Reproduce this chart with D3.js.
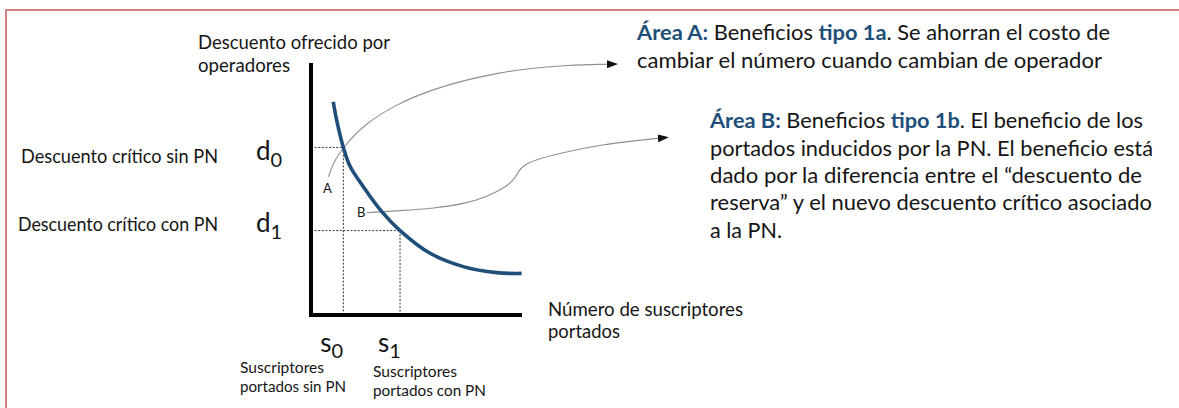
<!DOCTYPE html>
<html><head><meta charset="utf-8">
<script src="https://cdn.jsdelivr.net/npm/d3@7"></script>
<style>
html,body{margin:0;padding:0;background:#fff;overflow:hidden}
svg{display:block}
text{font-family:Lato,"Open Sans",sans-serif;fill:#151515}
</style>
</head><body>
<script>
// ---- data (chart units: s = suscriptores portados, d = descuento) ----
const curveS = [10.6, 12.2, 15.4, 18.6, 24.9, 33.7, 42.4, 56.7, 72.5, 88.4, 100.3];
const curveD = [84.6, 77.4, 66.5, 59.0, 50.9, 41.0, 33.5, 24.5, 19.2, 16.8, 16.5];
const critS = [15.4, 42.4];
const critD = [66.5, 33.5];
const dTickLabels = ["d", "d"];
const dTickSubs = ["0", "1"];
const sTickLabels = ["s", "s"];
const sTickSubs = ["0", "1"];
const dCritLabels = ["Descuento crítico sin PN", "Descuento crítico con PN"];
const sCritLabels = [["Suscriptores", "portados sin PN"], ["Suscriptores", "portados con PN"]];
const yTitle = ["Descuento ofrecido por", "operadores"];
const xTitle = ["Número de suscriptores", "portados"];
const areaLabels = ["A", "B"];
const annotA_S = [8.33, 10.48, 15.38, 25.0, 40.95, 58.10, 73.33, 90.0, 104.29, 121.9, 140.95];
const annotA_D = [54.8, 60.3, 66.5, 75.5, 83.8, 89.6, 93.2, 96.2, 97.9, 99.2, 99.5];
const annotB_S = [26.5, 42.4, 58.2, 74.1, 83.7, 93.2, 97.1, 98.7, 101.1, 109.0, 121.8, 137.6, 156.7, 165.2];
const annotB_D = [40.6, 41.4, 42.3, 44.3, 46.9, 50.9, 54.2, 56.9, 59.5, 62.2, 64.8, 67.5, 69.4, 70.1];
const noteA = [
  [["Área A:", true], [" Beneficios ", false], ["tipo 1a", true], [". Se ahorran el costo de", false]],
  [["cambiar el número cuando cambian de operador", false]]
];
const noteB = [
  [["Área B:", true], [" Beneficios ", false], ["tipo 1b", true], [". El beneficio de los", false]],
  [["portados inducidos por la PN. El beneficio está", false]],
  [["dado por la diferencia entre el “descuento de", false]],
  [["reserva” y el nuevo descuento crítico asociado", false]],
  [["a la PN.", false]]
];

// ---- layout ----
const W = 1179, H = 408;
const BLUE = "#1f4e79";
const svg = d3.select("body").append("svg").attr("width", W).attr("height", H);

const x = d3.scaleLinear().domain([0, 100]).range([311, 521]);
const y = d3.scaleLinear().domain([0, 100]).range([315, 63]);

// frame
svg.append("path").attr("d", `M6,${H}V10H${W}`).attr("fill", "none")
  .attr("stroke", "#d77f7f").attr("stroke-width", 2);

// arrow marker
svg.append("defs").append("marker").attr("id", "arr")
  .attr("viewBox", "0 0 11 8").attr("refX", 0).attr("refY", 4)
  .attr("markerUnits", "userSpaceOnUse").attr("markerWidth", 11).attr("markerHeight", 8)
  .attr("orient", "auto")
  .append("path").attr("d", "M0,0L11,4L0,8Z").attr("fill", "#111");

// dashed guides
const guides = svg.append("g").attr("stroke", "#333").attr("stroke-width", 1)
  .attr("stroke-dasharray", "2,1.6").attr("fill", "none");
critS.forEach((s, i) => {
  guides.append("line").attr("x1", x(0)).attr("x2", x(s)).attr("y1", y(critD[i])).attr("y2", y(critD[i]));
  guides.append("line").attr("x1", x(s)).attr("x2", x(s)).attr("y1", y(critD[i])).attr("y2", y(0));
});

// annotation curves
const lineGen = d3.line().x(d => x(d[0])).y(d => y(d[1])).curve(d3.curveBasis);
[[annotA_S, annotA_D], [annotB_S, annotB_D]].forEach(([S, D]) => {
  svg.append("path").datum(S.map((s, i) => [s, D[i]])).attr("d", lineGen)
    .attr("fill", "none").attr("stroke", "#8f8f8f").attr("stroke-width", 1.1)
    .attr("marker-end", "url(#arr)");
});

// demand curve
svg.append("path").datum(curveS.map((s, i) => [s, curveD[i]]))
  .attr("d", d3.line().x(d => x(d[0])).y(d => y(d[1])).curve(d3.curveCatmullRom.alpha(0.5)))
  .attr("fill", "none").attr("stroke", BLUE).attr("stroke-width", 3.6);

// axes (thick domain lines, no ticks)
const yAxis = svg.append("g").attr("transform", `translate(${x(0)},0)`)
  .call(d3.axisLeft(y).tickValues([]).tickSizeOuter(0));
const xAxis = svg.append("g").attr("transform", `translate(0,${y(0)})`)
  .call(d3.axisBottom(x).tickValues([]).tickSizeOuter(0));
yAxis.select(".domain").attr("stroke", "#000").attr("stroke-width", 4)
  .attr("d", `M0,${y(0) + 2}V${y(100)}`);
xAxis.select(".domain").attr("stroke", "#000").attr("stroke-width", 4)
  .attr("d", `M${x(0) - 2},0H${x(100) + 1}`);

// helper for text with fitted length
function label(str, tx, ty, size, len) {
  const t = svg.append("text").attr("x", tx).attr("y", ty).attr("font-size", size).text(str);
  if (len) t.attr("textLength", len).attr("lengthAdjust", "spacingAndGlyphs");
  return t;
}

// d tick labels
const dTickOffsets = [13, 1];
const dLabelOffsets = [16, 0.5];
critD.forEach((d, i) => {
  const t = svg.append("text").attr("x", 256).attr("y", y(d) + dTickOffsets[i]).attr("font-size", 26);
  t.append("tspan").text(dTickLabels[i]);
  t.append("tspan").attr("dy", 7).attr("font-size", 20).text(dTickSubs[i]);
  label(dCritLabels[i], i === 0 ? 21 : 18, y(d) + dLabelOffsets[i], 19.5, i === 0 ? 197 : 200);
});

// s tick labels
const sTickDx = [-23, -22];
const sLabelX = [240, 373];
const sLabelY = [[373, 392], [377, 396]];
const sLabelLen = [[84, 106], [84, 113]];
critS.forEach((s, i) => {
  const t = svg.append("text").attr("x", x(s) + sTickDx[i]).attr("y", 352).attr("font-size", 26);
  t.append("tspan").text(sTickLabels[i]);
  t.append("tspan").attr("dy", 6).attr("font-size", 20).text(sTickSubs[i]);
  sCritLabels[i].forEach((ln, j) => label(ln, sLabelX[i], sLabelY[i][j], 15.5, sLabelLen[i][j]));
});

// axis titles
label(yTitle[0], 198, 49, 19, 192);
label(yTitle[1], 198, 72, 19, 92);
label(xTitle[0], 548, 316, 19, 195);
label(xTitle[1], 548, 338, 19, 72);

// area labels
label(areaLabels[0], 323, 193, 13);
label(areaLabels[1], 357, 217, 13);

// notes
function note(lines, tx, baselines, lens) {
  lines.forEach((segs, i) => {
    const t = svg.append("text").attr("x", tx).attr("y", baselines[i]).attr("font-size", 20.5)
      .attr("xml:space", "preserve");
    if (lens[i]) t.attr("textLength", lens[i]).attr("lengthAdjust", "spacingAndGlyphs");
    segs.forEach(([str, bold]) => {
      const sp = t.append("tspan").text(str);
      if (bold) sp.attr("font-weight", 700).style("fill", BLUE);
    });
  });
}
note(noteA, 637, [40, 68], [473, 465]);
note(noteB, 710, [128, 155.5, 183, 210, 237.5], [433, 443, 432, 442, 72]);
</script>
</body></html>
